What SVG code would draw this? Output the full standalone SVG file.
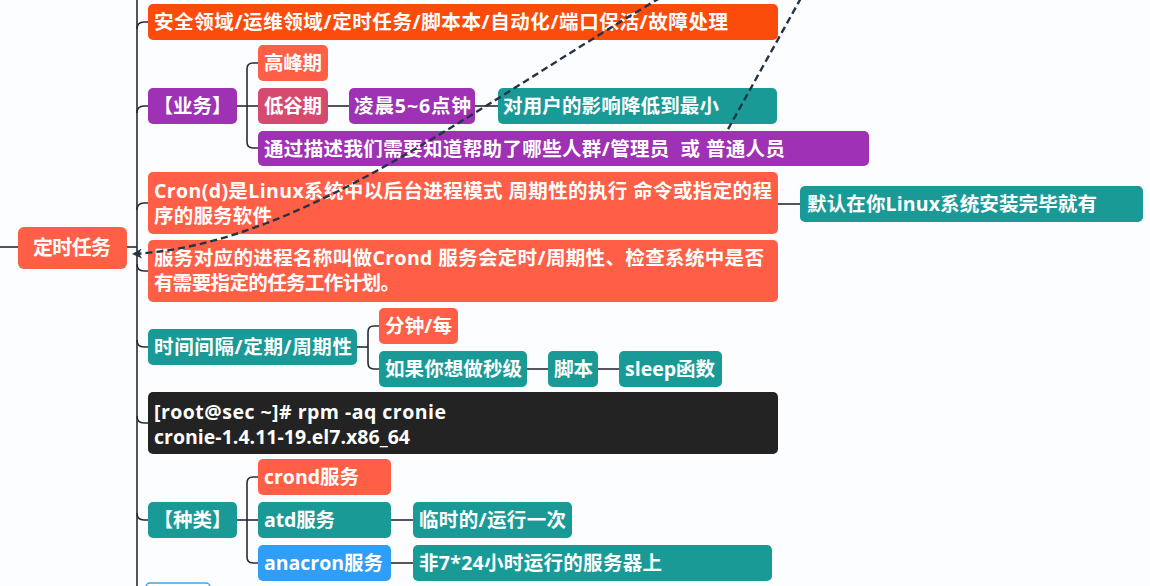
<svg xmlns="http://www.w3.org/2000/svg" width="1150" height="586" viewBox="0 0 1150 586">
<defs>
<style>
.t{font-family:"Open Sans","Noto Sans CJK SC",sans-serif;font-weight:700;font-size:19.5px;fill:#ffffff}
.c{text-anchor:middle}
.or{fill:#fc4c0c}
.co{fill:#ff5f47}
.pu{fill:#9e31b4}
.te{fill:#1a9a97}
.pk{fill:#d74a6f}
.bl{fill:#2e9ef6}
.dk{fill:#232323}
.ln{fill:none;stroke:#2a2a36;stroke-width:1.6}
.ds{fill:none;stroke:#243447;stroke-width:2.4;stroke-dasharray:7 4}
</style>
<marker id="ar" viewBox="0 0 10 10" refX="9" refY="5" markerWidth="10" markerHeight="10" markerUnits="userSpaceOnUse" orient="auto">
<path d="M0,0 L10,5 L0,10 L3,5 z" fill="#243447"/>
</marker>
</defs>
<rect width="1150" height="586" fill="#fbfdfe"/>
<g id="connectors">
<path class="ln" d="M0,247 L18,247"/>
<path class="ln" d="M137,-5 L137,590"/>
<path class="ln" d="M127,247 L137,247"/>
<path class="ln" d="M137,29 Q137,22 144,22 L148,22"/>
<path class="ln" d="M137,113 Q137,106 144,106 L148,106"/>
<path class="ln" d="M137,210 Q137,203 144,203 L148,203"/>
<path class="ln" d="M137,264 Q137,271 144,271 L148,271"/>
<path class="ln" d="M137,340 Q137,347 144,347 L148,347"/>
<path class="ln" d="M137,416 Q137,423 144,423 L148,423"/>
<path class="ln" d="M137,513 Q137,520 144,520 L148,520"/>
<path class="ln" d="M237,106 L258,106"/>
<path class="ln" d="M258,63 L253,63 Q247,63 247,69 L247,142 Q247,148 253,148 L258,148"/>
<path class="ln" d="M328,106 L349,106"/>
<path class="ln" d="M475,106 L498,106"/>
<path class="ln" d="M778,204 L800,204"/>
<path class="ln" d="M357,347 L368,347"/>
<path class="ln" d="M379,326 L374,326 Q368,326 368,332 L368,363 Q368,369 374,369 L379,369"/>
<path class="ln" d="M527,369 L548,369"/>
<path class="ln" d="M598,369 L619,369"/>
<path class="ln" d="M237,520 L258,520"/>
<path class="ln" d="M258,477 L253,477 Q247,477 247,483 L247,557 Q247,563 253,563 L258,563"/>
<path class="ln" d="M391,520 L413,520"/>
<path class="ln" d="M391,563 L413,563"/>
</g>
<g id="root"><rect class="co" x="18" y="227" width="109" height="42" rx="6"/><text class="t" x="33" y="255" style="font-size:20px" textLength="78">定时任务</text></g>
<g id="n1"><rect class="or" x="148" y="4" width="630" height="36" rx="5"/><text class="t" x="154" y="29" textLength="574">安全领域/运维领域/定时任务/脚本本/自动化/端口保活/故障处理</text></g>
<g id="n2"><rect class="pu" x="148" y="88" width="89" height="36" rx="5"/><text class="t c" x="192.5" y="113">【业务】</text></g>
<g id="n2a"><rect class="co" x="258" y="45" width="70" height="36" rx="5"/><text class="t" x="264" y="70" textLength="58">高峰期</text></g>
<g id="n2b"><rect class="pk" x="258" y="88" width="70" height="36" rx="5"/><text class="t" x="264" y="113" textLength="58">低谷期</text></g>
<g id="n2c"><rect class="pu" x="349" y="88" width="126" height="36" rx="5"/><text class="t" x="354" y="113" textLength="117">凌晨5~6点钟</text></g>
<g id="n2d"><rect class="te" x="498" y="88" width="279" height="36" rx="5"/><text class="t" x="503" y="113" textLength="216">对用户的影响降低到最小</text></g>
<g id="n2e"><rect class="pu" x="258" y="131" width="611" height="35" rx="5"/><text class="t" x="264" y="156" style="white-space:pre" textLength="521">通过描述我们需要知道帮助了哪些人群/管理员  或 普通人员</text></g>
<g id="n3"><rect class="co" x="148" y="172" width="630" height="62" rx="5"/><text class="t" x="154" y="198" textLength="618">Cron(d)是Linux系统中以后台进程模式 周期性的执行 命令或指定的程</text><text class="t" x="154" y="223" textLength="118">序的服务软件</text></g>
<g id="n3a"><rect class="te" x="800" y="186" width="343" height="36" rx="5"/><text class="t" x="807" y="211" textLength="290">默认在你Linux系统安装完毕就有</text></g>
<g id="n4"><rect class="co" x="148" y="240" width="630" height="62" rx="5"/><text class="t" x="154" y="265" textLength="610">服务对应的进程名称叫做Crond 服务会定时/周期性、检查系统中是否</text><text class="t" x="154" y="290" textLength="246">有需要指定的任务工作计划。</text></g>
<g id="n5"><rect class="te" x="148" y="329" width="209" height="36" rx="5"/><text class="t" x="154" y="354" textLength="198">时间间隔/定期/周期性</text></g>
<g id="n5a"><rect class="co" x="379" y="308" width="79" height="36" rx="5"/><text class="t" x="385" y="333" textLength="67">分钟/每</text></g>
<g id="n5b"><rect class="te" x="379" y="351" width="148" height="36" rx="5"/><text class="t" x="385" y="376" textLength="137">如果你想做秒级</text></g>
<g id="n5c"><rect class="te" x="548" y="351" width="50" height="36" rx="5"/><text class="t" x="554" y="376" textLength="39">脚本</text></g>
<g id="n5d"><rect class="te" x="619" y="351" width="103" height="36" rx="5"/><text class="t" x="625" y="376" textLength="90">sleep函数</text></g>
<g id="n6"><rect class="dk" x="148" y="392" width="630" height="62" rx="5"/><text class="t" x="154" y="419" textLength="292">[root@sec ~]# rpm -aq cronie</text><text class="t" x="154" y="444" textLength="256">cronie-1.4.11-19.el7.x86_64</text></g>
<g id="n7"><rect class="te" x="148" y="502" width="89" height="36" rx="5"/><text class="t c" x="192.5" y="527">【种类】</text></g>
<g id="n7a"><rect class="co" x="258" y="459" width="133" height="36" rx="5"/><text class="t" x="264" y="484" textLength="95">crond服务</text></g>
<g id="n7b"><rect class="te" x="258" y="502" width="133" height="36" rx="5"/><text class="t" x="264" y="527" textLength="71">atd服务</text></g>
<g id="n7c"><rect class="bl" x="258" y="545" width="133" height="36" rx="5"/><text class="t" x="264" y="570" textLength="119">anacron服务</text></g>
<g id="n7d"><rect class="te" x="413" y="502" width="159" height="36" rx="5"/><text class="t" x="419" y="527" textLength="147">临时的/运行一次</text></g>
<g id="n7e"><rect class="te" x="413" y="545" width="359" height="36" rx="5"/><text class="t" x="419" y="570" textLength="243">非7*24小时运行的服务器上</text></g>
<g id="n8"><rect x="146" y="583" width="64" height="20" rx="4" fill="#ffffff" stroke="#3aa6f0" stroke-width="1.5"/></g>
<g id="dashed">
<path class="ds" d="M660,-2 C470,110 300,245 133,254" marker-end="url(#ar)"/>
<path class="ds" d="M801,-2 L727,131"/>
</g>
</svg>
